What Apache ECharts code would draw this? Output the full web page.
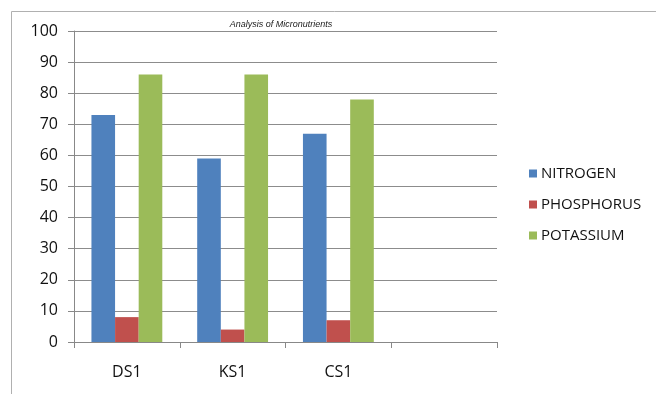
<!DOCTYPE html>
<html>
<head>
<meta charset="utf-8">
<script src="https://cdn.jsdelivr.net/npm/echarts@6/dist/echarts.min.js"></script>
<style>
  html, body { margin: 0; padding: 0; background: #fff; }
  #chart { width: 656px; height: 394px; }
</style>
</head>
<body>
<div id="chart"></div>
<script>
var categories = ['DS1', 'KS1', 'CS1', ''];
var nitrogen = [73, 59, 67, null];
var phosphorus = [8, 4, 7, null];
var potassium = [86, 86, 78, null];
var yTicks = [0, 100, 10];

var chart = echarts.init(document.getElementById('chart'));

var font = '"Open Sans", "DejaVu Sans", sans-serif';

chart.setOption({
    animation: false,
    backgroundColor: '#ffffff',
    color: ['#4f81bd', '#c0504d', '#9bbb59'],
    title: {
        text: 'Analysis of Micronutrients',
        left: 276,
        top: 15,
        textAlign: 'center',
        textStyle: {
            fontFamily: '"Liberation Sans", sans-serif',
            fontStyle: 'italic',
            fontWeight: 'normal',
            fontSize: 9,
            color: '#222'
        }
    },
    graphic: [{
        type: 'rect',
        shape: { x: 11.5, y: 11.5, width: 700, height: 420 },
        style: { fill: 'none', stroke: '#b0b0b0', lineWidth: 1 },
        silent: true
    }],
    legend: {
        orient: 'vertical',
        left: 524,
        top: 161,
        itemWidth: 8,
        itemHeight: 8,
        itemGap: 16,
        icon: 'rect',
        textStyle: { fontFamily: font, fontSize: 15, color: '#111', padding: [0, 0, 0, -1] },
        data: ['NITROGEN', 'PHOSPHORUS', 'POTASSIUM']
    },
    grid: {
        left: 74,
        right: 159,
        top: 31,
        bottom: 52
    },
    xAxis: {
        type: 'category',
        data: categories,
        axisLine: { lineStyle: { color: '#888', width: 1 } },
        axisTick: { show: true, length: 6, inside: false, lineStyle: { color: '#888' } },
        axisLabel: { fontFamily: font, fontSize: 16, color: '#111', margin: 22 }
    },
    yAxis: {
        type: 'value',
        min: yTicks[0],
        max: yTicks[1],
        interval: yTicks[2],
        axisLine: { show: true, lineStyle: { color: '#888', width: 1 } },
        axisTick: { show: true, length: 6, lineStyle: { color: '#888' } },
        axisLabel: { fontFamily: font, fontSize: 16, color: '#111', margin: 16 },
        splitLine: { show: true, lineStyle: { color: '#8c8c8c', width: 1 } }
    },
    series: [{
        name: 'NITROGEN',
        type: 'bar',
        data: nitrogen,
        barGap: '0%',
        barCategoryGap: '33%'
    }, {
        name: 'PHOSPHORUS',
        type: 'bar',
        data: phosphorus
    }, {
        name: 'POTASSIUM',
        type: 'bar',
        data: potassium
    }]
});
</script>
</body>
</html>
